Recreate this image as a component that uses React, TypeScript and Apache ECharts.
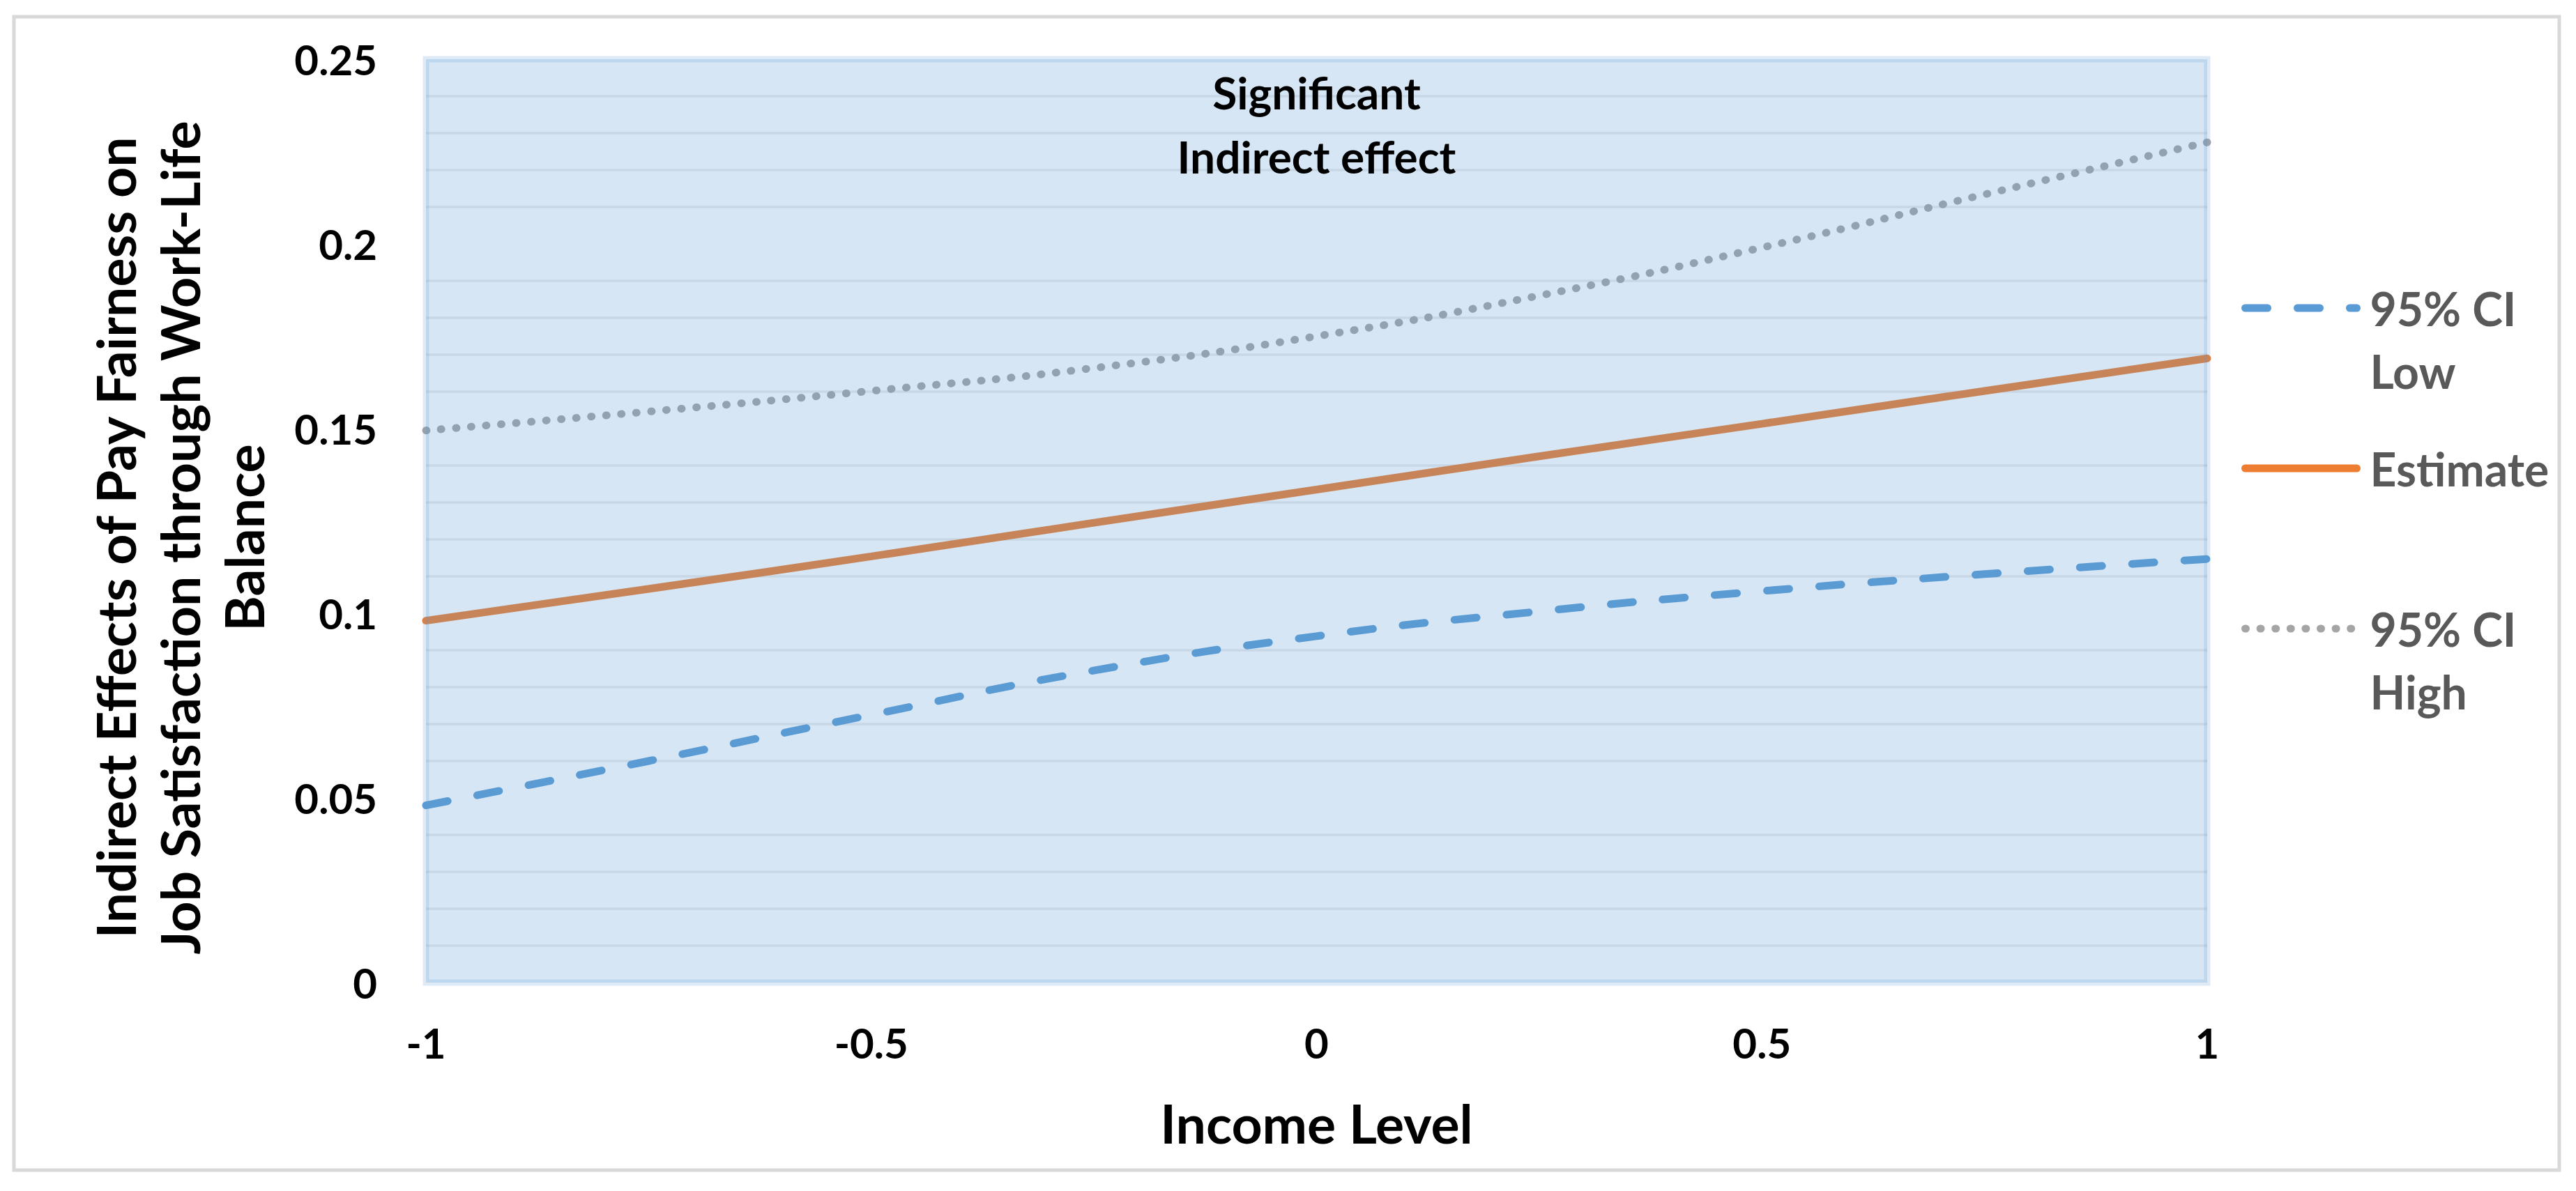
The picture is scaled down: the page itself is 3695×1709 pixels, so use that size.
import React, { useEffect, useRef } from 'react';
import * as echarts from 'echarts';

// Income level (x) at which values were read
const incomeLevels = [-1, -0.75, -0.5, -0.25, 0, 0.25, 0.5, 0.75, 1];
// Series values
const ciLow = [0.048, 0.06, 0.0725, 0.0845, 0.0938, 0.1005, 0.106, 0.1106, 0.1147];
const estimate = [0.098, 0.1066, 0.1154, 0.1245, 0.1335, 0.1425, 0.1513, 0.1602, 0.169];
const ciHigh = [0.1495, 0.1546, 0.1602, 0.1664, 0.175, 0.186, 0.199, 0.2134, 0.2275];

const seriesNames = ['95% CI Low', 'Estimate', '95% CI High'];
// a leading blank line keeps the first text line level with the legend key
const legendLabels: Record<string, string> = {
  '95% CI Low': '\n95% CI\nLow',
  'Estimate': 'Estimate',
  '95% CI High': '\n95% CI\nHigh',
};
const xTitle = 'Income Level';
const yTitle = 'Indirect Effects of Pay Fairness on\nJob Satisfaction through Work-Life\nBalance';
const regionLabel = 'Significant\nIndirect effect';

const zip = (xs: number[], ys: number[]) => xs.map((x, i) => [x, ys[i]]);

export default function App() {
  const ref = useRef<HTMLDivElement>(null);
  useEffect(() => {
    const chart = echarts.init(ref.current!, undefined, { renderer: 'svg' });
    const font = 'Lato, "Noto Sans", sans-serif';
    const option: any = {
      animation: false,
      backgroundColor: '#ffffff',
      textStyle: { fontFamily: font },
      graphic: [
        {
          type: 'rect',
          silent: true,
          z: -1,
          shape: { x: 20, y: 24, width: 3651, height: 1655 },
          style: { fill: 'none', stroke: '#d9d9d9', lineWidth: 5 },
        },
      ],
      grid: { left: 611, right: 529, top: 85, bottom: 299, containLabel: false },
      xAxis: {
        type: 'value',
        min: -1,
        max: 1,
        interval: 0.5,
        name: xTitle,
        nameLocation: 'middle',
        nameGap: 162,
        nameTextStyle: { fontSize: 77, fontWeight: 'bold', color: '#000', fontFamily: font },
        axisLine: { show: false },
        axisTick: { show: false },
        splitLine: { show: false },
        axisLabel: { fontSize: 60, fontWeight: 'bold', color: '#000', margin: 56, fontFamily: font },
      },
      yAxis: {
        type: 'value',
        min: 0,
        max: 0.25,
        interval: 0.05,
        name: yTitle,
        nameLocation: 'middle',
        nameRotate: 90,
        nameGap: 216,
        nameTextStyle: {
          fontSize: 77,
          fontWeight: 'bold',
          color: '#000',
          lineHeight: 92,
          fontFamily: font,
          padding: [0, 48, 0, 0],
        },
        axisLine: { show: false },
        axisTick: { show: false },
        splitLine: { show: false },
        minorTick: { show: false, splitNumber: 5 },
        minorSplitLine: { show: true, lineStyle: { color: '#ebebeb', width: 3.5 } },
        axisLabel: { fontSize: 60, fontWeight: 'bold', color: '#000', margin: 70, fontFamily: font },
      },
      legend: {
        orient: 'vertical',
        left: 3215,
        top: 307,
        padding: 0,
        itemWidth: 160,
        itemHeight: 20,
        itemGap: 50,
        data: seriesNames,
        formatter: (n: string) => legendLabels[n] ?? n,
        textStyle: {
          fontSize: 66,
          fontWeight: 'bold',
          color: '#595959',
          lineHeight: 90,
          fontFamily: font,
          padding: [0, 0, 0, 14],
        },
        itemStyle: { opacity: 0 },
        lineStyle: { width: 11 },
      },
      series: [
        {
          name: seriesNames[0],
          type: 'line',
          data: zip(incomeLevels, ciLow),
          symbol: 'none',
          smooth: true,
          color: '#5b9bd5',
          lineStyle: { color: '#5b9bd5', width: 11, type: [32, 43], cap: 'round' },
          z: 2,
        },
        {
          name: seriesNames[1],
          type: 'line',
          data: zip(incomeLevels, estimate),
          symbol: 'none',
          smooth: true,
          color: '#ed7d31',
          lineStyle: { color: '#ed7d31', width: 11, cap: 'round' },
          z: 2,
        },
        {
          name: seriesNames[2],
          type: 'line',
          data: zip(incomeLevels, ciHigh),
          symbol: 'none',
          smooth: true,
          color: '#a5a5a5',
          lineStyle: { color: '#a5a5a5', width: 11, type: [1, 20.6], cap: 'round' },
          z: 2,
        },
        {
          name: 'Significant',
          type: 'line',
          data: [],
          symbol: 'none',
          z: 10,
          silent: true,
          markArea: {
            silent: true,
            z: 10,
            itemStyle: {
              color: 'rgba(91,155,213,0.25)',
              borderColor: 'rgba(91,155,213,0.2)',
              borderWidth: 9,
            },
            label: {
              show: true,
              position: 'insideTop',
              distance: 6,
              formatter: regionLabel,
              fontSize: 64,
              fontWeight: 'bold',
              color: '#000',
              lineHeight: 92,
              fontFamily: font,
            },
            data: [[{ xAxis: -1, yAxis: 0 }, { xAxis: 1, yAxis: 0.25 }]],
          },
        },
      ],
    };
    chart.setOption(option);
    return () => chart.dispose();
  }, []);
  return (
    <div
      ref={ref}
      style={{ position: 'absolute', left: 0, top: 0, width: 3695, height: 1709 }}
    />
  );
}
